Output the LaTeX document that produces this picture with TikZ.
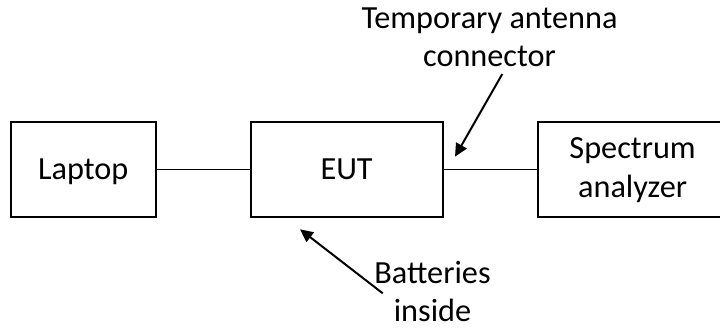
\documentclass[tikz,border=0pt]{standalone}
\usepackage{fontspec}
\setmainfont{Carlito}
\usetikzlibrary{arrows.meta}
\begin{document}
\begin{tikzpicture}[x=0.75pt,y=-0.75pt,
  font=\fontsize{24.2pt}{29pt}\selectfont,
  box/.style={draw=black,line width=1.5pt,rectangle,minimum height=71.25pt,inner sep=0pt,text height=15pt,text depth=0pt},
  conn/.style={draw=black,line width=1pt},
  pointer/.style={draw=black,line width=1.5pt,-{Triangle[length=9.75pt,width=9pt]}},
  lbl/.style={inner sep=0pt,align=center,anchor=base}]
\clip (0,0) rectangle (720,328);
\node[box,minimum width=108.4pt] (laptop) at (83.25,169.2) {Laptop};
\node[box,minimum width=143.85pt] (eut) at (346.6,169.2) {EUT};
\node[box,minimum width=141.5pt] (spec) at (632.65,169.2) {};
\node[lbl] (spectxt) at (632.6,197) {Spectrum\\analyzer};
\draw[conn] (laptop.east) -- (eut.west);
\draw[conn] (eut.east) -- (spec.west);
\node[lbl] (tac) at (489.5,66.7) {Temporary antenna\\connector};
\node[lbl] (bat) at (432.5,321.7) {Batteries\\inside};
\coordinate (tailA) at (502.3,74);
\coordinate (tipA) at (455,156.7);
\coordinate (tailB) at (382.7,293.3);
\coordinate (tipB) at (300,229.3);
\draw[pointer] (tailA) -- (tipA);
\draw[pointer] (tailB) -- (tipB);
\end{tikzpicture}
\end{document}
